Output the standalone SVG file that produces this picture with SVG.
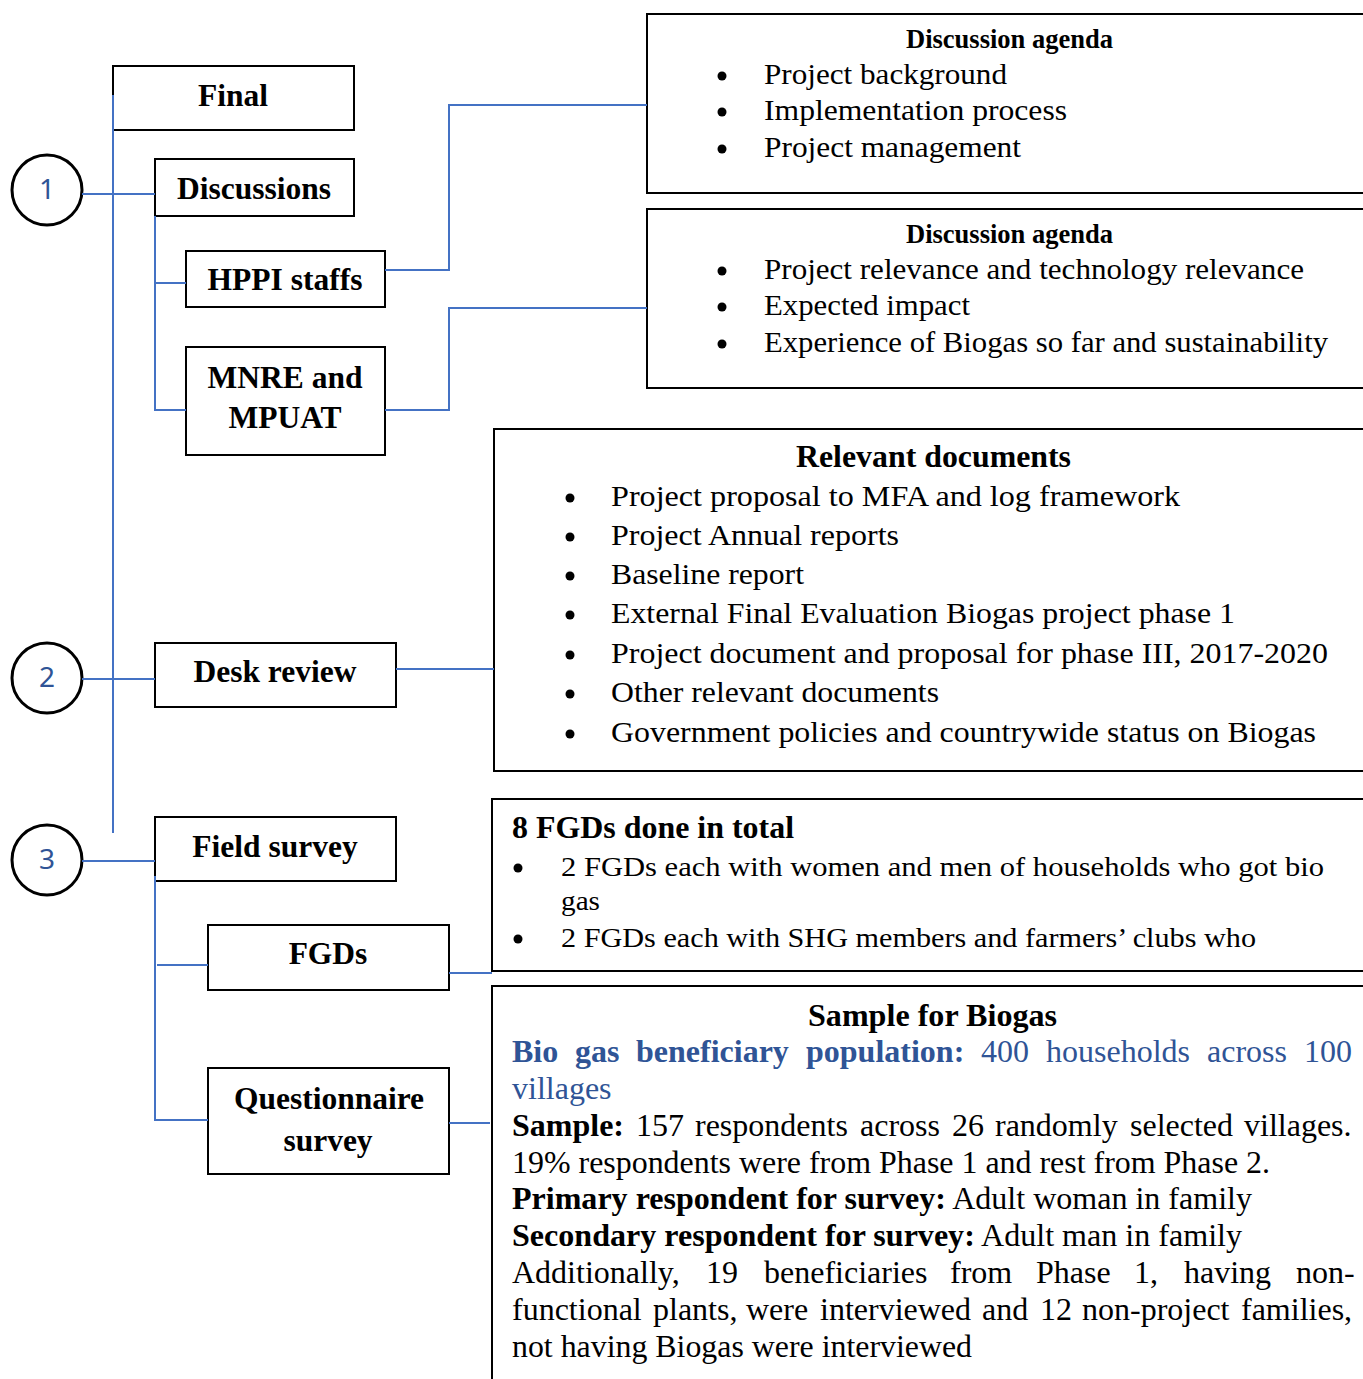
<svg xmlns="http://www.w3.org/2000/svg" width="1363" height="1379" viewBox="0 0 1363 1379">
<style>
.box{fill:#fff;stroke:#000;stroke-width:2}
.circ{fill:#fff;stroke:#000;stroke-width:3}
.conn{fill:none;stroke:#4472C4;stroke-width:2}
.bul{fill:#000}
.num{font-family:"Noto Sans","Liberation Sans",sans-serif;font-size:28px;fill:#2F5496;text-anchor:middle}
.lbl{font-family:"Liberation Serif",serif;font-weight:bold;font-size:31.5px;text-anchor:middle;fill:#000}
.ttl{font-family:"Liberation Serif",serif;font-weight:bold;font-size:28px;fill:#000}
.t{font-family:"Liberation Serif",serif;font-size:29px;fill:#000}
.s{font-family:"Liberation Serif",serif;font-size:32px;fill:#000}
.b{font-weight:bold}
.blue{fill:#2F5496}
</style>
<rect width="1363" height="1379" fill="#fff"/>

<g id="info-boxes">
<g id="agenda1">
<rect class="box" x="647" y="14" width="730" height="179"/>
<text class="ttl" x="906" y="48" textLength="207" lengthAdjust="spacingAndGlyphs">Discussion agenda</text>
<circle class="bul" cx="722" cy="76" r="4.5"/><text class="t" x="764" y="84" textLength="243" lengthAdjust="spacingAndGlyphs">Project background</text>
<circle class="bul" cx="722" cy="112" r="4.5"/><text class="t" x="764" y="120" textLength="303" lengthAdjust="spacingAndGlyphs">Implementation process</text>
<circle class="bul" cx="722" cy="149" r="4.5"/><text class="t" x="764" y="157" textLength="257" lengthAdjust="spacingAndGlyphs">Project management</text>
</g>
<g id="agenda2">
<rect class="box" x="647" y="209" width="730" height="179"/>
<text class="ttl" x="906" y="243" textLength="207" lengthAdjust="spacingAndGlyphs">Discussion agenda</text>
<circle class="bul" cx="722" cy="271" r="4.5"/><text class="t" x="764" y="279" textLength="540" lengthAdjust="spacingAndGlyphs">Project relevance and technology relevance</text>
<circle class="bul" cx="722" cy="307" r="4.5"/><text class="t" x="764" y="315" textLength="206" lengthAdjust="spacingAndGlyphs">Expected impact</text>
<circle class="bul" cx="722" cy="344" r="4.5"/><text class="t" x="764" y="352" textLength="564" lengthAdjust="spacingAndGlyphs">Experience of Biogas so far and sustainability</text>
</g>
<g id="documents">
<rect class="box" x="494" y="429" width="883" height="342"/>
<text class="ttl" x="796" y="467" style="font-size:32px" textLength="275" lengthAdjust="spacingAndGlyphs">Relevant documents</text>
<circle class="bul" cx="570" cy="498" r="4.5"/><text class="t" x="611" y="506" textLength="569" lengthAdjust="spacingAndGlyphs">Project proposal to MFA and log framework</text>
<circle class="bul" cx="570" cy="537" r="4.5"/><text class="t" x="611" y="545" textLength="288" lengthAdjust="spacingAndGlyphs">Project Annual reports</text>
<circle class="bul" cx="570" cy="576" r="4.5"/><text class="t" x="611" y="584" textLength="193" lengthAdjust="spacingAndGlyphs">Baseline report</text>
<circle class="bul" cx="570" cy="615" r="4.5"/><text class="t" x="611" y="623" textLength="624" lengthAdjust="spacingAndGlyphs">External Final Evaluation Biogas project phase 1</text>
<circle class="bul" cx="570" cy="655" r="4.5"/><text class="t" x="611" y="663" textLength="717" lengthAdjust="spacingAndGlyphs">Project document and proposal for phase III, 2017-2020</text>
<circle class="bul" cx="570" cy="694" r="4.5"/><text class="t" x="611" y="702" textLength="328" lengthAdjust="spacingAndGlyphs">Other relevant documents</text>
<circle class="bul" cx="570" cy="734" r="4.5"/><text class="t" x="611" y="742" textLength="705" lengthAdjust="spacingAndGlyphs">Government policies and countrywide status on Biogas</text>
</g>
<g id="fgd-info">
<rect class="box" x="492" y="799" width="885" height="172"/>
<text class="ttl" x="512" y="838" style="font-size:32px" textLength="282" lengthAdjust="spacingAndGlyphs">8 FGDs done in total</text>
<circle class="bul" cx="518" cy="868" r="4.5"/><text class="t" x="561" y="876" style="font-size:27px" textLength="763" lengthAdjust="spacingAndGlyphs">2 FGDs each with women and men of households who got bio</text>
<text class="t" x="561" y="910" style="font-size:27px" textLength="39" lengthAdjust="spacingAndGlyphs">gas</text>
<circle class="bul" cx="518" cy="939" r="4.5"/><text class="t" x="561" y="947" style="font-size:27px" textLength="695" lengthAdjust="spacingAndGlyphs">2 FGDs each with SHG members and farmers’ clubs who</text>
</g>
<g id="sample-info">
<rect class="box" x="492" y="986" width="885" height="410"/>
<text class="s b" x="808" y="1026" textLength="249" lengthAdjust="spacingAndGlyphs">Sample for Biogas</text>
<text class="s blue" y="1062"><tspan class="b" x="512">Bio</tspan><tspan class="b" x="575">gas</tspan><tspan class="b" x="636">beneficiary</tspan><tspan class="b" x="806">population:</tspan><tspan x="981">400</tspan><tspan x="1046">households</tspan><tspan x="1207">across</tspan><tspan x="1304">100</tspan></text>
<text class="s blue" x="512" y="1099">villages</text>
<text class="s" y="1136"><tspan class="b" x="512">Sample:</tspan><tspan x="636">157</tspan><tspan x="695">respondents</tspan><tspan x="860">across</tspan><tspan x="952">26</tspan><tspan x="995">randomly</tspan><tspan x="1130">selected</tspan><tspan x="1244">villages.</tspan></text>
<text class="s" x="512" y="1173" textLength="758" lengthAdjust="spacingAndGlyphs">19% respondents were from Phase 1 and rest from Phase 2.</text>
<text class="s" x="512" y="1209" textLength="740" lengthAdjust="spacingAndGlyphs"><tspan class="b">Primary respondent for survey:</tspan> Adult woman in family</text>
<text class="s" x="512" y="1246" textLength="730" lengthAdjust="spacingAndGlyphs"><tspan class="b">Secondary respondent for survey:</tspan> Adult man in family</text>
<text class="s" y="1283"><tspan x="512">Additionally,</tspan><tspan x="706">19</tspan><tspan x="764">beneficiaries</tspan><tspan x="950">from</tspan><tspan x="1036">Phase</tspan><tspan x="1134">1,</tspan><tspan x="1184">having</tspan><tspan x="1296">non-</tspan></text>
<text class="s" y="1320"><tspan x="512">functional</tspan><tspan x="653">plants,</tspan><tspan x="746">were</tspan><tspan x="820">interviewed</tspan><tspan x="982">and</tspan><tspan x="1040">12</tspan><tspan x="1082">non-project</tspan><tspan x="1241">families,</tspan></text>
<text class="s" x="512" y="1357" textLength="460" lengthAdjust="spacingAndGlyphs">not having Biogas were interviewed</text>
</g>
</g>

<g id="nodes">
<g id="final"><rect class="box" x="113" y="66" width="241" height="64"/><text class="lbl" x="233" y="106">Final</text></g>
<g id="discussions"><rect class="box" x="155" y="159" width="199" height="57"/><text class="lbl" x="254" y="199">Discussions</text></g>
<g id="hppi"><rect class="box" x="186" y="251" width="199" height="56"/><text class="lbl" x="285" y="290">HPPI staffs</text></g>
<g id="mnre"><rect class="box" x="186" y="347" width="199" height="108"/><text class="lbl" x="285" y="388">MNRE and</text><text class="lbl" x="285" y="428">MPUAT</text></g>
<g id="desk"><rect class="box" x="155" y="643" width="241" height="64"/><text class="lbl" x="275" y="682">Desk review</text></g>
<g id="field"><rect class="box" x="155" y="817" width="241" height="64"/><text class="lbl" x="275" y="857">Field survey</text></g>
<g id="fgds"><rect class="box" x="208" y="925" width="241" height="65"/><text class="lbl" x="328" y="964">FGDs</text></g>
<g id="quest"><rect class="box" x="208" y="1068" width="241" height="106"/><text class="lbl" x="329" y="1109">Questionnaire</text><text class="lbl" x="328" y="1151">survey</text></g>
<g id="c1"><circle class="circ" cx="47" cy="190" r="35"/><text class="num" x="47" y="199">1</text></g>
<g id="c2"><circle class="circ" cx="47" cy="678" r="35"/><text class="num" x="47" y="687">2</text></g>
<g id="c3"><circle class="circ" cx="47" cy="860" r="35"/><text class="num" x="47" y="869">3</text></g>
</g>

<g id="connectors">
<line class="conn" x1="113" y1="95" x2="113" y2="833"/>
<line class="conn" x1="82" y1="194" x2="155" y2="194"/>
<polyline class="conn" points="155,216 155,410 186,410"/>
<line class="conn" x1="155" y1="283" x2="186" y2="283"/>
<polyline class="conn" points="385,270 449,270 449,105 647,105"/>
<polyline class="conn" points="385,410 449,410 449,308 647,308"/>
<line class="conn" x1="82" y1="679" x2="155" y2="679"/>
<line class="conn" x1="396" y1="669" x2="494" y2="669"/>
<line class="conn" x1="82" y1="861" x2="155" y2="861"/>
<polyline class="conn" points="155,876 155,1120 208,1120"/>
<line class="conn" x1="157" y1="965" x2="208" y2="965"/>
<line class="conn" x1="449" y1="973" x2="492" y2="973"/>
<line class="conn" x1="449" y1="1123" x2="490" y2="1123"/>
</g>
</svg>
